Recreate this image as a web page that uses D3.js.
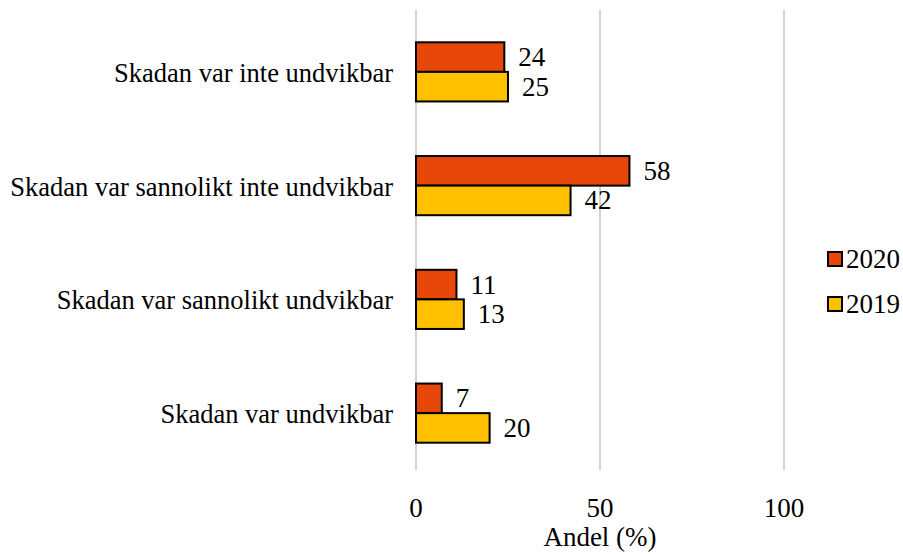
<!DOCTYPE html>
<html>
<head>
<meta charset="utf-8">
<script src="https://cdn.jsdelivr.net/npm/d3@7"></script>
<style>
body{margin:0;background:#fff;}
svg text{font-family:"Liberation Serif","Times New Roman",serif;fill:#000;}
</style>
</head>
<body>
<svg id="chart" width="903" height="554"></svg>
<script>
var categories = ["Skadan var inte undvikbar", "Skadan var sannolikt inte undvikbar", "Skadan var sannolikt undvikbar", "Skadan var undvikbar"];
var series = ["2020", "2019"];
var values2020 = [24, 58, 11, 7];
var values2019 = [25, 42, 13, 20];
var xTicks = [0, 50, 100];
var colors = {"2020": "#E8470A", "2019": "#FFC000"};

var svg = d3.select("#chart");
var plotL = 416, plotR = 784, plotT = 15, plotB = 470;

var x = d3.scaleLinear().domain([0, 100]).range([plotL, plotR]);
var y = d3.scaleBand().domain(categories).range([plotT, plotB]).paddingInner(0.48).paddingOuter(0.24);
var ySub = d3.scaleBand().domain(series).range([0, y.bandwidth()]);

// gridlines
svg.append("g").selectAll("line").data(xTicks).enter().append("line")
    .attr("x1", function(d){return x(d);}).attr("x2", function(d){return x(d);})
    .attr("y1", 10).attr("y2", plotB)
    .attr("stroke", "#d4d4d4").attr("stroke-width", 2);

// tick labels
svg.append("g").selectAll("text").data(xTicks).enter().append("text")
    .attr("x", function(d){return x(d);}).attr("y", 517)
    .attr("text-anchor", "middle").attr("font-size", 27)
    .text(function(d){return d;});

svg.append("text").attr("x", 600).attr("y", 546).attr("text-anchor", "middle")
    .attr("font-size", 27).text("Andel (%)");

// category labels
svg.append("g").selectAll("text").data(categories).enter().append("text")
    .attr("x", 393).attr("y", function(d){return y(d) + y.bandwidth()/2 + 10;})
    .attr("text-anchor", "end").attr("font-size", 26.5)
    .text(function(d){return d;});

var rows = [];
categories.forEach(function(c, i){
    rows.push({cat: c, s: "2020", v: values2020[i]});
    rows.push({cat: c, s: "2019", v: values2019[i]});
});

var g = svg.append("g");
g.selectAll("rect").data(rows).enter().append("rect")
    .attr("x", x(0))
    .attr("y", function(d){return y(d.cat) + ySub(d.s);})
    .attr("width", function(d){return x(d.v) - x(0);})
    .attr("height", ySub.bandwidth())
    .attr("fill", function(d){return colors[d.s];})
    .attr("stroke", "#000").attr("stroke-width", 2);

g.selectAll("text").data(rows).enter().append("text")
    .attr("x", function(d){return x(d.v) + 14;})
    .attr("y", function(d){return y(d.cat) + ySub(d.s) + ySub.bandwidth()/2 + 9;})
    .attr("font-size", 27)
    .text(function(d){return d.v;});

// legend
var leg = svg.append("g").selectAll("g").data(series).enter().append("g")
    .attr("transform", function(d, i){return "translate(828," + (252 + i*45) + ")";});
leg.append("rect").attr("width", 14).attr("height", 14)
    .attr("fill", function(d){return colors[d];})
    .attr("stroke", "#000").attr("stroke-width", 2);
leg.append("text").attr("x", 18).attr("y", 16).attr("font-size", 27)
    .text(function(d){return d;});
</script>
</body>
</html>
